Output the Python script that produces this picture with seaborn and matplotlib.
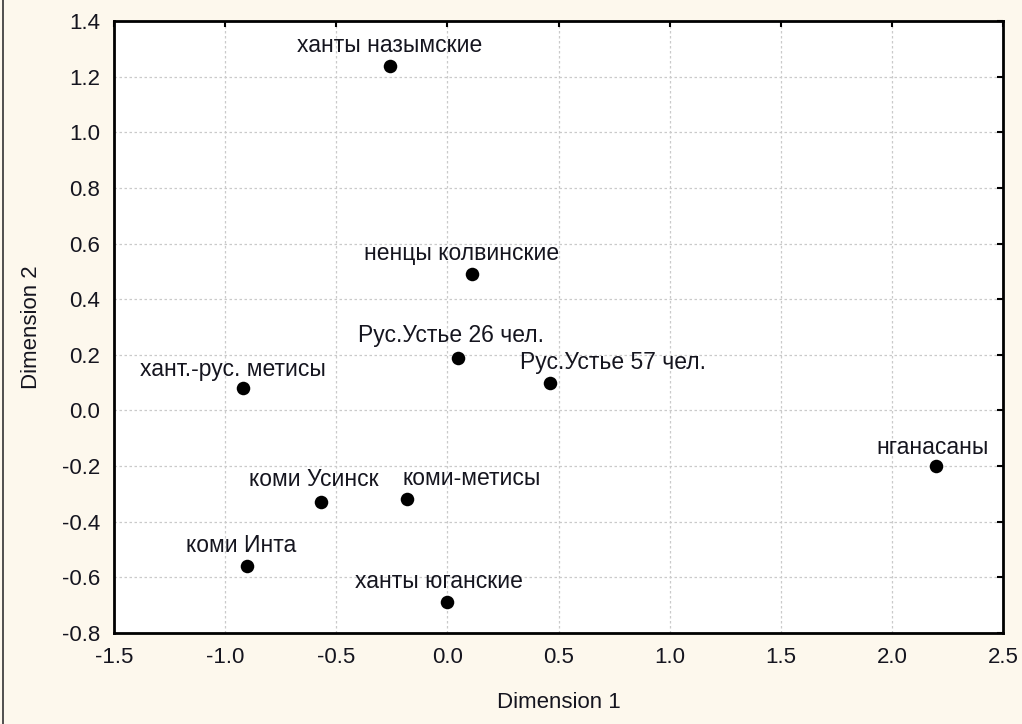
import matplotlib
matplotlib.use("Agg")
import matplotlib.pyplot as plt
from matplotlib.lines import Line2D
import seaborn as sns
import pandas as pd

# Multidimensional scaling coordinates of the population samples
groups = [
    "ханты назымские",
    "ненцы колвинские",
    "Рус.Устье 26 чел.",
    "Рус.Устье 57 чел.",
    "хант.-рус. метисы",
    "нганасаны",
    "коми Усинск",
    "коми-метисы",
    "коми Инта",
    "ханты юганские",
]
dim1 = [-0.26, 0.11, 0.05, 0.46, -0.92, 2.20, -0.57, -0.18, -0.90, 0.00]
dim2 = [1.24, 0.49, 0.19, 0.10, 0.08, -0.20, -0.33, -0.32, -0.56, -0.69]

x_ticks = [-1.5, -1.0, -0.5, 0.0, 0.5, 1.0, 1.5, 2.0, 2.5]
y_ticks = [-0.8, -0.6, -0.4, -0.2, 0.0, 0.2, 0.4, 0.6, 0.8, 1.0, 1.2, 1.4]

# label placement relative to each point (pixels)
label_offsets = {
    "ханты назымские": (0, 23),
    "ненцы колвинские": (-10, 23),
    "Рус.Устье 26 чел.": (-7, 25),
    "Рус.Устье 57 чел.": (63, 23),
    "хант.-рус. метисы": (-10, 21),
    "нганасаны": (-4, 21),
    "коми Усинск": (-7, 25),
    "коми-метисы": (64, 23),
    "коми Инта": (-6, 23),
    "ханты юганские": (-8, 23),
}

df = pd.DataFrame({"group": groups, "Dimension 1": dim1, "Dimension 2": dim2})

sns.set_style("white")
plt.rcParams["font.family"] = ["Liberation Sans", "DejaVu Sans"]

bg = "#fdf8ed"
ink = "#15151f"
fig = plt.figure(figsize=(10.22, 7.24), dpi=100, facecolor=bg)
ax = fig.add_axes([114 / 1022, 1 - 633 / 724, (1003 - 114) / 1022, (633 - 21) / 724])
ax.set_facecolor("white")

sns.scatterplot(data=df, x="Dimension 1", y="Dimension 2", ax=ax,
                color="black", s=95, edgecolor="black", linewidth=0, zorder=3)

for g, x, y in zip(groups, dim1, dim2):
    dx, dy = label_offsets[g]
    ax.annotate(g, (x, y), xytext=(dx, dy), textcoords="offset pixels",
                ha="center", va="center_baseline", fontsize=16.5, color=ink)

ax.set_xlim(-1.5, 2.5)
ax.set_ylim(-0.8, 1.4)
ax.set_xticks(x_ticks)
ax.set_yticks(y_ticks)
ax.set_xticklabels([f"{v:.1f}" for v in x_ticks])
ax.set_yticklabels([f"{v:.1f}" for v in y_ticks])
ax.tick_params(direction="in", length=4, width=1.5, labelsize=16,
               top=True, right=True, color="black", labelcolor=ink, pad=10)
ax.grid(True, linestyle=(0, (2, 2)), color="#cacaca", linewidth=0.9)
for sp in ax.spines.values():
    sp.set_linewidth(2)
    sp.set_color("black")

ax.set_xlabel("Dimension 1", fontsize=16, labelpad=17, color=ink)
ax.set_ylabel("Dimension 2", fontsize=16, labelpad=14, color=ink)

# left frame edge of the figure panel
fig.add_artist(Line2D([3 / 1022, 3 / 1022], [0, 1], transform=fig.transFigure,
                      color="#333333", linewidth=1.2))

fig.savefig("out.png", dpi=100, facecolor=bg)
